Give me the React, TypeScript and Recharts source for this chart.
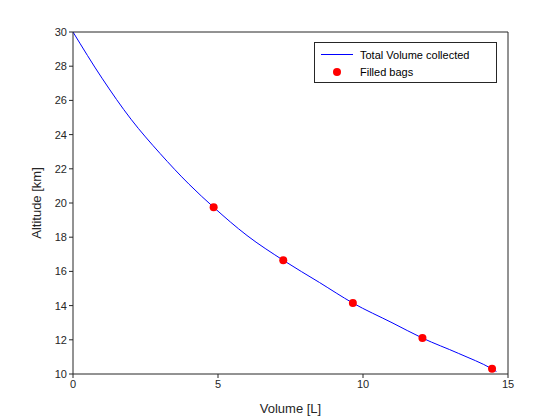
import React from 'react';
import { ComposedChart, Line, Scatter, XAxis, YAxis, ReferenceLine, Label } from 'recharts';

// curve (volume in L, altitude in km)
const curveVolume = [0, 1, 2, 3, 4, 4.85, 6, 7.25, 8.5, 9.65, 11, 12.05, 13.3, 14.45, 14.6];
const curveAltitude = [30, 27.3, 24.9, 22.9, 21.1, 19.75, 18.1, 16.65, 15.35, 14.15, 13.0, 12.1, 11.2, 10.3, 10.15];

const bagVolume = [4.85, 7.25, 9.65, 12.05, 14.45];
const bagAltitude = [19.75, 16.65, 14.15, 12.1, 10.3];

const xTicks = [0, 5, 10, 15];
const yTicks = [10, 12, 14, 16, 18, 20, 22, 24, 26, 28, 30];

const curve = curveVolume.map((v, i) => ({ v, alt: curveAltitude[i] }));
const bags = bagVolume.map((v, i) => ({ v, alt: bagAltitude[i] }));

const axisColor = '#262626';
const tick = { fontSize: 11, fill: axisColor, fontFamily: 'Arial, Liberation Sans, sans-serif' };

const App = () => (
  <div style={{ position: 'absolute', left: 0, top: 0, width: 560, height: 420, background: '#fff', fontFamily: 'Arial, Liberation Sans, sans-serif' }}>
    <ComposedChart width={560} height={420} margin={{ top: 32, right: 52, left: 0, bottom: 0 }}>
      <XAxis type="number" dataKey="v" domain={[0, 15]} ticks={xTicks} height={46} stroke={axisColor} tick={tick} tickSize={4} allowDataOverflow>
        <Label value="Volume [L]" position="insideBottom" offset={7} style={{ fontSize: 13, fill: axisColor }} />
      </XAxis>
      <YAxis type="number" dataKey="alt" domain={[10, 30]} ticks={yTicks} width={73} stroke={axisColor} tick={tick} tickSize={4} allowDataOverflow>
        <Label value="Altitude [km]" angle={-90} position="insideLeft" offset={36} style={{ fontSize: 13, fill: axisColor, textAnchor: 'middle' }} />
      </YAxis>
      <ReferenceLine y={30} stroke={axisColor} />
      <ReferenceLine x={15} stroke={axisColor} />
      <Line data={curve} dataKey="alt" type="monotone" stroke="#0000ff" strokeWidth={1} dot={false} isAnimationActive={false} />
      <Scatter data={bags} dataKey="alt" fill="#ff0000" shape={(p: any) => <circle cx={p.cx} cy={p.cy} r={4} fill="#ff0000" />} isAnimationActive={false} />
    </ComposedChart>
    <div style={{ position: 'absolute', left: 314, top: 42, width: 181, height: 39, border: '1px solid #262626', background: '#fff', fontSize: 11, color: '#000' }}>
      <div style={{ display: 'flex', alignItems: 'center', height: 19, marginTop: 2 }}>
        <div style={{ width: 32, height: 1, background: '#0000ff', marginLeft: 6, marginRight: 7 }} />
        <span>Total Volume collected</span>
      </div>
      <div style={{ display: 'flex', alignItems: 'center', height: 16 }}>
        <div style={{ width: 32, marginLeft: 6, marginRight: 7, display: 'flex', justifyContent: 'center' }}>
          <div style={{ width: 8, height: 8, borderRadius: 4, background: '#ff0000' }} />
        </div>
        <span>Filled bags</span>
      </div>
    </div>
  </div>
);

export default App;
